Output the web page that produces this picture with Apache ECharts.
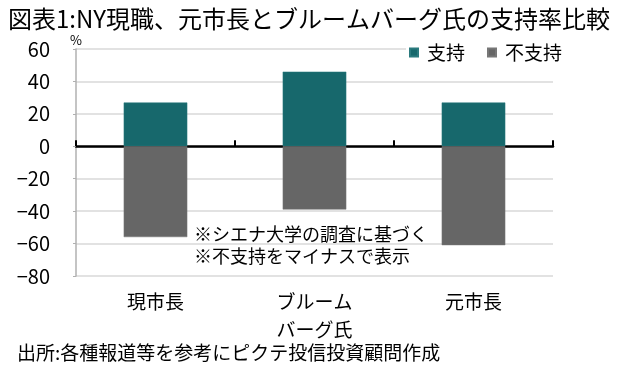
<!DOCTYPE html>
<html>
<head>
<meta charset="utf-8">
<script src="https://cdn.jsdelivr.net/npm/echarts@6/dist/echarts.min.js"></script>
<style>
html,body{margin:0;padding:0;background:#fff;}
#chart{width:630px;height:374px;}
</style>
</head>
<body>
<div id="chart"></div>
<script>
var titleText = '図表1:NY現職、元市長とブルームバーグ氏の支持率比較';
var categories = ['現市長', 'ブルーム\nバーグ氏', '元市長'];
var seriesNames = ['支持', '不支持'];
var supportValues = [27, 46, 27];
var opposeValues = [-56, -39, -61];
var yTicks = [60, 40, 20, 0, -20, -40, -60, -80];
var noteLines = ['※シエナ大学の調査に基づく', '※不支持をマイナスで表示'];
var sourceText = '出所:各種報道等を参考にピクテ投信投資顧問作成';
var unitText = '%';

var FONT = '"Noto Sans CJK JP", "Noto Sans", sans-serif';
var chart = echarts.init(document.getElementById('chart'), null, {renderer: 'canvas'});

var option = {
  backgroundColor: '#ffffff',
  animation: false,
  textStyle: {fontFamily: FONT},
  title: {
    text: titleText,
    left: 3,
    top: 2,
    textStyle: {fontSize: 24, fontWeight: 'normal', color: '#000', fontFamily: FONT}
  },
  legend: {
    data: seriesNames,
    left: 406,
    top: 41,
    itemWidth: 8,
    itemHeight: 8,
    itemGap: 22,
    icon: 'rect',
    backgroundColor: '#ffffff',
    padding: [2, 2, 2, 3],
    textStyle: {fontSize: 19, color: '#000', fontFamily: FONT, padding: [0, 0, 0, 4]}
  },
  grid: {left: 76, right: 77, top: 49, height: 227, containLabel: false},
  xAxis: [
    {
      type: 'category',
      data: categories,
      position: 'bottom',
      axisLine: {onZero: true, lineStyle: {color: '#000', width: 2.5}},
      axisTick: {show: true, inside: true, length: 6, lineStyle: {color: '#000', width: 2}},
      axisLabel: {show: false},
      splitLine: {show: false}
    },
    {
      type: 'category',
      data: categories,
      position: 'bottom',
      axisLine: {show: false, onZero: false},
      axisTick: {show: false},
      axisLabel: {show: true, margin: 12, fontSize: 19, lineHeight: 28, color: '#000', fontFamily: FONT},
      splitLine: {show: false}
    }
  ],
  yAxis: {
    type: 'value',
    min: -80,
    max: 60,
    interval: 20,
    axisLine: {show: true, lineStyle: {color: '#b0b0b0', width: 1.5}},
    axisTick: {show: true, length: 3, lineStyle: {color: '#b0b0b0'}},
    splitLine: {show: true, lineStyle: {color: '#d9d9d9', width: 1.5}},
    axisLabel: {
      margin: 26,
      fontSize: 20,
      color: '#000',
      fontFamily: FONT,
      formatter: function (v) { return String(v).replace('-', '−'); }
    }
  },
  graphic: [
    {type: 'text', left: 70, top: 34, style: {text: unitText, fontSize: 13, fill: '#000', fontFamily: FONT}},
    {type: 'text', left: 194, top: 225, style: {text: noteLines[0], fontSize: 18, fill: '#000', fontFamily: FONT}},
    {type: 'text', left: 194, top: 247, style: {text: noteLines[1], fontSize: 18, fill: '#000', fontFamily: FONT}},
    {type: 'text', left: 17, top: 343, style: {text: sourceText, fontSize: 19, fill: '#000', fontFamily: FONT}}
  ],
  series: [
    {
      name: seriesNames[0],
      type: 'bar',
      stack: 'total',
      xAxisIndex: 0,
      barWidth: '40%',
      data: supportValues,
      itemStyle: {color: '#17686c', borderColor: '#2b7a7e', borderWidth: 0.5}
    },
    {
      name: seriesNames[1],
      type: 'bar',
      stack: 'total',
      xAxisIndex: 0,
      barWidth: '40%',
      data: opposeValues,
      itemStyle: {color: '#666666', borderColor: '#777777', borderWidth: 0.5}
    }
  ]
};
chart.setOption(option);
</script>
</body>
</html>
